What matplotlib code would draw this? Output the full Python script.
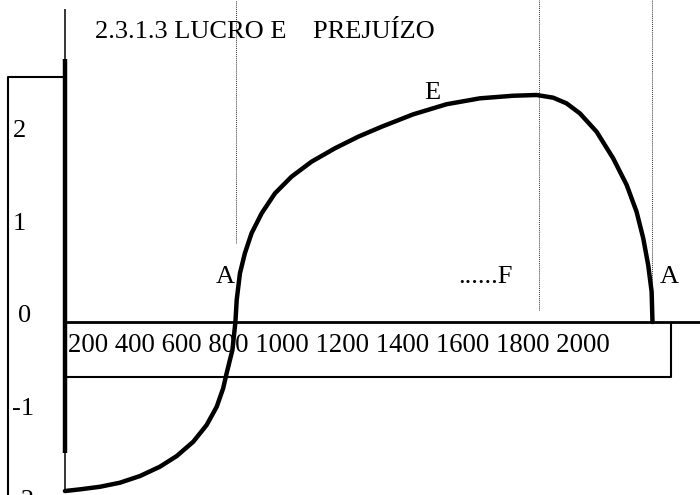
import matplotlib
matplotlib.use("Agg")
import matplotlib.pyplot as plt

plt.rcParams['font.family'] = ['Liberation Serif', 'DejaVu Serif']

# curva de lucro (+) e prejuizo (-) em funcao da quantidade
quantidade = [0, 70, 163, 256, 349, 442, 520, 597, 659, 706, 736, 752, 779,
              793, 799, 814, 837, 868, 915, 977, 1054, 1147, 1256, 1364,
              1473, 1620, 1775, 1930, 2085, 2194, 2271, 2333, 2395, 2473,
              2550, 2613, 2659, 2690, 2713, 2729, 2733]
lucro = [-1.827, -1.809, -1.781, -1.737, -1.665, -1.564, -1.449, -1.294,
         -1.114, -0.916, -0.717, -0.555, -0.303, 0.0, 0.238, 0.526, 0.743,
         0.959, 1.175, 1.391, 1.571, 1.733, 1.878, 2.003, 2.111, 2.245,
         2.354, 2.418, 2.446, 2.454, 2.425, 2.364, 2.256, 2.057, 1.770,
         1.481, 1.192, 0.905, 0.616, 0.328, 0.0]

y_ticks = [2, 1, 0, -1, -2]
y_tick_labels = ["2", "1", "0", "-1", "-2"]
x_tick_labels = ["200", "400", "600", "800", "1000", "1200", "1400", "1600",
                 "1800", "2000"]

# linhas pontilhadas verticais (quantidade, ponto inferior)
guias_x = [795, 2205, 2730]
guias_y0 = [0.85, 0.13, 0.0]

fig = plt.figure(figsize=(7, 4.95), dpi=100)
ax = fig.add_axes([0, 0, 1, 1])
ax.set_xlim(-302, 2954)
ax.set_ylim(-1.870, 3.481)
ax.axis('off')

topo = 3.481
# caixa dos valores de y
ax.plot([-265, -265, -5], [-1.9, 2.645, 2.645], color='black', lw=1.5,
        solid_capstyle='butt')
# eixo y: partes finas e parte grossa
ax.plot([0, 0], [2.84, 3.38], color='black', lw=1.1, solid_capstyle='butt')
ax.plot([0, 0], [-1.84, -1.42], color='black', lw=1.1, solid_capstyle='butt')
ax.plot([0, 0], [-1.42, 2.84], color='black', lw=3.2, solid_capstyle='butt')

# eixo x e caixa dos rotulos
ax.plot([0, 3000], [0, 0], color='black', lw=2.0, solid_capstyle='butt')
ax.plot([9, 2819, 2819], [-0.59, -0.59, 0], color='black', lw=1.5,
        solid_capstyle='butt')

for gx, gy in zip(guias_x, guias_y0):
    ax.plot([gx, gx], [gy, topo], color='#333333', lw=0.7,
            linestyle=(0, (1, 1)))

ax.plot(quantidade, lucro, color='black', lw=3.2, solid_joinstyle='round',
        solid_capstyle='round')

fs = 19
for v, lab in zip(y_ticks, y_tick_labels):
    x0 = -219 if lab == "0" else -244
    ax.text(x0, v, lab, fontsize=fs, ha='left', va='baseline')

ax.text(14, -0.32, " ".join(x_tick_labels), fontsize=19.25, ha='left',
        va='baseline')

ax.text(139, 3.07, "2.3.1.3 LUCRO E    PREJUÍZO", fontsize=fs, ha='left',
        va='baseline')
ax.text(1670, 2.41, "E", fontsize=fs, ha='left', va='baseline')
ax.text(702, 0.42, "A", fontsize=fs, ha='left', va='baseline')
ax.text(1828, 0.42, "......F", fontsize=fs, ha='left', va='baseline')
ax.text(2767, 0.42, "A", fontsize=fs, ha='left', va='baseline')

fig.savefig("out.png", dpi=100)
